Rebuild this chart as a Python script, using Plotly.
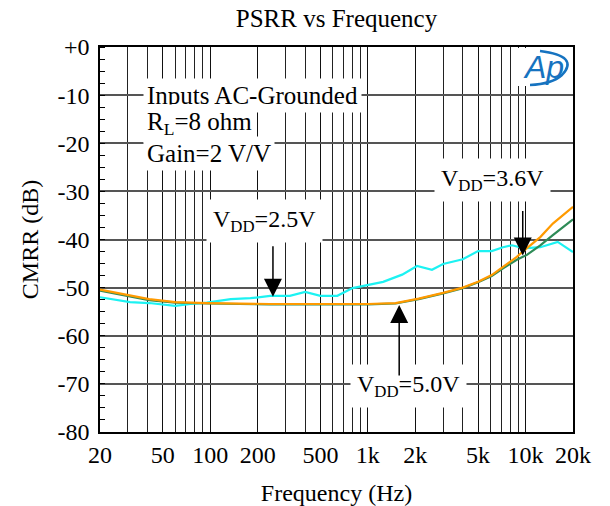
import plotly.graph_objects as go
import math

# ---------------- data ----------------
freq_cyan = [20, 31, 41, 60, 75, 95, 135, 180, 240, 320, 400, 500, 640, 800, 1250,
             1650, 2050, 2550, 3000, 4000, 5000, 6100, 7200, 8200, 9200, 10200, 12400, 16000, 20000]
cmrr_cyan = [-52.0, -53.0, -53.2, -53.8, -53.4, -53.1, -52.4, -52.2, -51.7, -51.7, -50.9, -51.7,
             -51.7, -50.1, -48.8, -47.3, -45.5, -46.3, -45.1, -44.1, -42.4, -42.4, -41.6, -41.2,
             -41.6, -41.8, -41.6, -40.5, -42.6]

freq_orange = [20, 31, 41, 60, 95, 240, 500, 1000, 1500, 2100, 3000, 4000, 5000, 6100,
               7200, 8800, 10200, 12400, 14900, 20000]
cmrr_orange = [-50.4, -51.6, -52.4, -53.0, -53.2, -53.4, -53.4, -53.4, -53.2, -52.3, -51.1,
               -50.0, -48.8, -47.4, -45.7, -43.6, -41.8, -39.5, -36.7, -33.2]

freq_green = [20, 31, 41, 60, 95, 240, 500, 1000, 1500, 2100, 3000, 4000, 5000, 6100,
              7200, 8800, 10200, 12400, 14900, 20000]
cmrr_green = [-50.6, -51.8, -52.6, -53.1, -53.3, -53.5, -53.5, -53.5, -53.3, -52.4, -51.2,
              -50.1, -48.9, -47.6, -46.0, -44.2, -43.2, -41.2, -39.1, -35.8]

x_tick_vals = [20, 50, 100, 200, 500, 1000, 2000, 5000, 10000, 20000]
x_tick_text = ["20", "50", "100", "200", "500", "1k", "2k", "5k", "10k", "20k"]
x_minor_vals = [30, 40, 60, 70, 80, 90, 300, 400, 600, 700, 800, 900,
                3000, 4000, 6000, 7000, 8000, 9000]
y_tick_vals = [0, -10, -20, -30, -40, -50, -60, -70, -80]
y_tick_text = ["+0", "-10", "-20", "-30", "-40", "-50", "-60", "-70", "-80"]

label_25 = "V<sub>DD</sub>=2.5V"
label_36 = "V<sub>DD</sub>=3.6V"
label_50 = "V<sub>DD</sub>=5.0V"
cond_lines = ["Inputs AC-Grounded", "R<sub>L</sub>=8 ohm", "Gain=2 V/V"]

# arrow tips (freq, dB)
tip_25 = (250, -51.9)
tip_36 = (9600, -43.3)
tip_50 = (1580, -53.6)

FONT = "Liberation Serif, Times New Roman, serif"
BLUE = "#1673C0"

fig = go.Figure()
fig.add_trace(go.Scatter(x=freq_cyan, y=cmrr_cyan, mode="lines",
                         line=dict(color="#1CF2F2", width=2.2), showlegend=False))
fig.add_trace(go.Scatter(x=freq_green, y=cmrr_green, mode="lines",
                         line=dict(color="#2E8B57", width=2.2), showlegend=False))
fig.add_trace(go.Scatter(x=freq_orange, y=cmrr_orange, mode="lines",
                         line=dict(color="#FF9A00", width=2.2), showlegend=False))

L, R, T, B = 100, 37, 47, 74
W, H = 610, 506
pw, ph = W - L - R, H - T - B


def px(xp):
    return (xp - L) / pw


def py(yp):
    return (H - B - yp) / ph


ann = []
# condition text block
for i, t in enumerate(cond_lines):
    ann.append(dict(text=t, xref="paper", yref="paper", x=px(143), y=py(95 + 29 * i),
                    xanchor="left", yanchor="middle", showarrow=False,
                    bgcolor="white", borderpad=3,
                    font=dict(family=FONT, size=25, color="black")))
# VDD labels
for t, (cx, cy) in [(label_25, (264, 221)), (label_36, (492, 180)), (label_50, (408, 386))]:
    ann.append(dict(text=t, xref="paper", yref="paper", x=px(cx), y=py(cy),
                    xanchor="center", yanchor="middle", showarrow=False,
                    bgcolor="white", borderpad=6,
                    font=dict(family=FONT, size=24, color="black")))
# arrows
for (fx, fy), ay in [(tip_25, -52), (tip_36, -46), (tip_50, 72)]:
    ann.append(dict(text="", x=math.log10(fx), y=fy, xref="x", yref="y",
                    ax=0, ay=ay, showarrow=True, arrowhead=2, arrowsize=2.4,
                    arrowwidth=1.5, arrowcolor="black", standoff=0,
                    font=dict(size=1)))
# logo
ann.append(dict(text="<i>Ap</i>", xref="paper", yref="paper", x=px(543), y=py(67),
                xanchor="center", yanchor="middle", showarrow=False,
                font=dict(family="Liberation Sans, Arial", size=32, color=BLUE)))

shapes = [
    dict(type="rect", xref="paper", yref="paper", x0=px(518), x1=px(572), y0=py(86), y1=py(48),
         fillcolor="white", line=dict(width=0), layer="above"),
    dict(type="path", xref="paper", yref="paper", layer="above",
         path=f"M {px(540)},{py(51)} Q {px(580)},{py(56)} {px(562)},{py(75)} Q {px(552)},{py(84)} {px(530)},{py(85)}",
         line=dict(color=BLUE, width=2.5)),
]

fig.update_layout(
    width=W, height=H,
    margin=dict(l=L, r=R, t=T, b=B, autoexpand=False),
    paper_bgcolor="white", plot_bgcolor="white",
    title=dict(text="PSRR vs Frequency", x=(L + pw / 2) / W, xanchor="center",
               y=1 - 18 / H, yanchor="middle",
               font=dict(family=FONT, size=25, color="black")),
    annotations=ann, shapes=shapes,
    xaxis=dict(type="log", range=[math.log10(20), math.log10(20000)], automargin=False,
               tickmode="array", tickvals=x_tick_vals, ticktext=x_tick_text,
               showgrid=True, gridcolor="#111", gridwidth=1.2,
               ticks="", showline=True, linecolor="black", linewidth=1.5, mirror=True,
               minor=dict(tickvals=x_minor_vals, showgrid=True, gridcolor="#222",
                          gridwidth=1.2, ticks=""),
               tickfont=dict(family=FONT, size=24, color="black"),
               title=dict(text="Frequency (Hz)", standoff=18,
                          font=dict(family=FONT, size=24, color="black")),
               zeroline=False),
    yaxis=dict(range=[-80, 0], tickmode="array", tickvals=y_tick_vals, ticktext=y_tick_text,
               automargin=False,
               showgrid=True, gridcolor="#555", gridwidth=1.5,
               ticks="", showline=True, linecolor="black", linewidth=1.5, mirror=True,
               minor=dict(dtick=2.5, ticks="inside", ticklen=5, tickcolor="black",
                          tickwidth=1, showgrid=False),
               ticklabelstandoff=4,
               tickfont=dict(family=FONT, size=24, color="black"),
               title=dict(text="CMRR (dB)", standoff=12,
                          font=dict(family=FONT, size=24, color="black")),
               zeroline=False),
)

fig.write_html("out.html")
